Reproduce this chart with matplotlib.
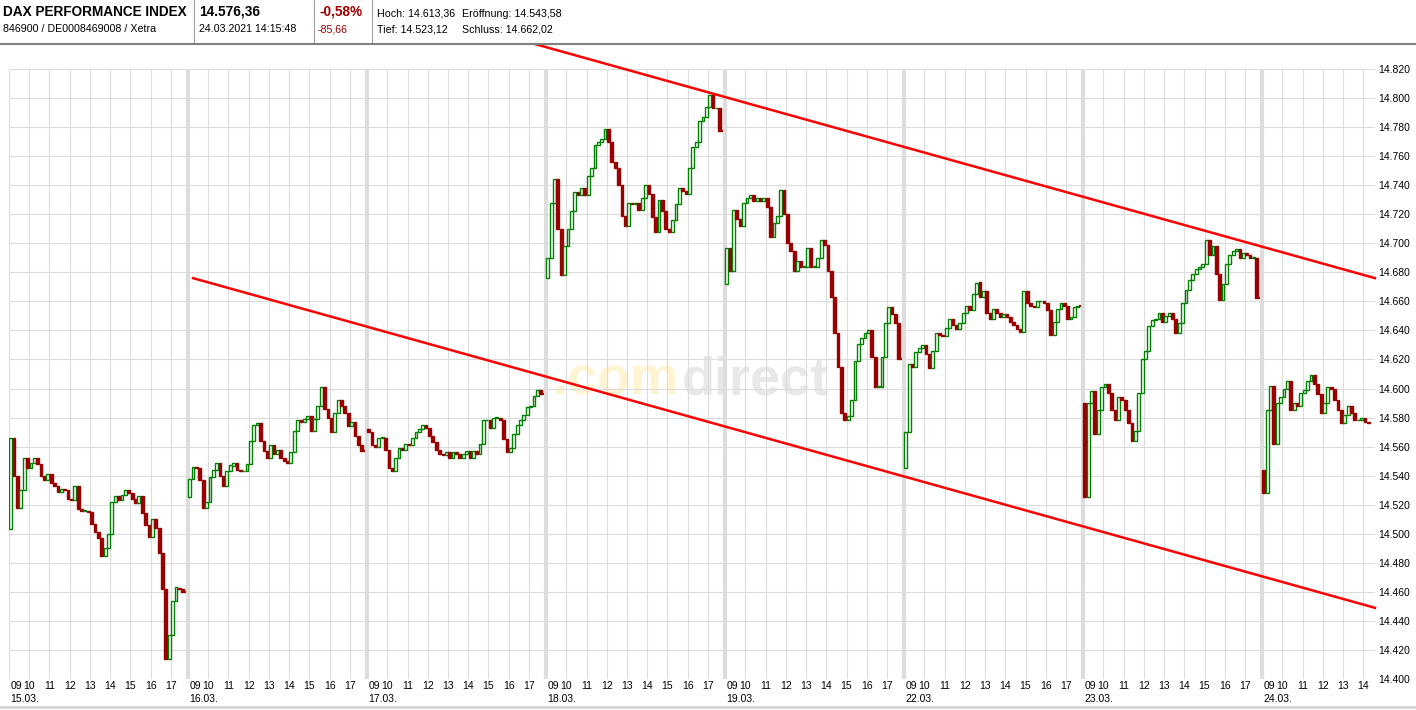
import matplotlib
matplotlib.use("Agg")
import matplotlib.pyplot as plt
from matplotlib.lines import Line2D
from matplotlib.transforms import blended_transform_factory

plt.rcParams['font.family'] = ['Liberation Sans', 'DejaVu Sans']

# trading days and their opening prices
day_dates = ["15.03.", "16.03.", "17.03.", "18.03.", "19.03.", "22.03.", "23.03.", "24.03."]
day_opens = [14503, 14525, 14572, 14676, 14672, 14545, 14590, 14544]

# 10-minute closes, 09:00 onwards
closes_1503 = [14566, 14540, 14518, 14530, 14552, 14545, 14549, 14552, 14548, 14540,
               14537, 14541, 14535, 14533, 14529, 14531, 14530, 14524, 14523, 14533,
               14517, 14516, 14516, 14515, 14507, 14501, 14497, 14485, 14490, 14500,
               14522, 14526, 14523, 14527, 14530, 14528, 14524, 14521, 14526, 14514,
               14506, 14498, 14510, 14504, 14487, 14462, 14414, 14430, 14454, 14463,
               14462, 14460]
closes_1603 = [14538, 14546, 14545, 14537, 14518, 14522, 14539, 14544, 14549, 14540,
               14533, 14543, 14547, 14549, 14544, 14543, 14543, 14548, 14564, 14575,
               14576, 14564, 14557, 14552, 14561, 14555, 14558, 14552, 14550, 14549,
               14556, 14571, 14578, 14577, 14579, 14581, 14571, 14579, 14588, 14601,
               14586, 14580, 14570, 14583, 14592, 14588, 14583, 14574, 14577, 14567,
               14561, 14557]
closes_1703 = [14570, 14561, 14560, 14566, 14566, 14558, 14545, 14543, 14552, 14559,
               14558, 14562, 14561, 14566, 14570, 14572, 14575, 14573, 14567, 14563,
               14558, 14555, 14554, 14556, 14552, 14556, 14555, 14552, 14555, 14557,
               14552, 14557, 14555, 14562, 14578, 14578, 14573, 14580, 14580, 14578,
               14565, 14556, 14559, 14569, 14575, 14578, 14582, 14587, 14588, 14595,
               14599, 14596]
closes_1803 = [14690, 14728, 14744, 14710, 14678, 14698, 14710, 14722, 14735, 14733,
               14738, 14733, 14746, 14752, 14768, 14770, 14772, 14779, 14770, 14756,
               14752, 14740, 14719, 14712, 14728, 14727, 14728, 14723, 14731, 14740,
               14734, 14718, 14708, 14730, 14722, 14710, 14708, 14716, 14727, 14738,
               14736, 14734, 14752, 14766, 14770, 14784, 14787, 14794, 14802, 14793,
               14793, 14777]
closes_1903 = [14697, 14681, 14723, 14717, 14712, 14728, 14731, 14733, 14729, 14731,
               14729, 14731, 14725, 14704, 14714, 14719, 14737, 14720, 14700, 14695,
               14681, 14688, 14684, 14684, 14697, 14684, 14684, 14690, 14702, 14699,
               14681, 14663, 14638, 14615, 14583, 14578, 14581, 14592, 14619, 14631,
               14635, 14638, 14640, 14622, 14601, 14601, 14622, 14645, 14656, 14651,
               14645, 14620]
closes_2203 = [14570, 14617, 14615, 14625, 14628, 14630, 14624, 14614, 14626, 14638,
               14637, 14636, 14642, 14648, 14644, 14641, 14645, 14652, 14657, 14654,
               14665, 14673, 14663, 14667, 14652, 14648, 14655, 14652, 14649, 14651,
               14649, 14646, 14644, 14641, 14639, 14667, 14659, 14657, 14656, 14660,
               14660, 14659, 14654, 14637, 14646, 14655, 14659, 14657, 14648, 14649,
               14656, 14657]
closes_2303 = [14525, 14590, 14598, 14569, 14585, 14601, 14603, 14597, 14585, 14578,
               14594, 14592, 14585, 14576, 14564, 14571, 14597, 14620, 14626, 14643,
               14647, 14648, 14652, 14646, 14650, 14652, 14648, 14638, 14645, 14659,
               14668, 14675, 14679, 14682, 14684, 14686, 14702, 14692, 14698, 14679,
               14661, 14672, 14686, 14692, 14695, 14696, 14690, 14693, 14692, 14690,
               14690, 14662]
closes_2403 = [14528, 14585, 14602, 14562, 14590, 14594, 14600, 14605, 14585, 14590,
               14588, 14597, 14599, 14605, 14609, 14603, 14596, 14583, 14590, 14601,
               14600, 14592, 14585, 14576, 14582, 14588, 14583, 14578, 14578, 14580,
               14577, 14576]
day_closes = [closes_1503, closes_1603, closes_1703, closes_1803,
              closes_1903, closes_2203, closes_2303, closes_2403]

# trend lines (hours on the axis, index level)
upper_trend_x = [26.02, 67.46]
upper_trend_y = [14837, 14676]
lower_trend_x = [9.09, 67.46]
lower_trend_y = [14676, 14449]

header_title = "DAX PERFORMANCE INDEX"
header_id = "846900 / DE0008469008 / Xetra"
header_price = "14.576,36"
header_time = "24.03.2021 14:15:48"
header_pct = "-0,58%"
header_diff = "-85,66"
header_high = "Hoch: 14.613,36"
header_low = "Tief: 14.523,12"
header_open = "Eröffnung: 14.543,58"
header_close = "Schluss: 14.662,02"

DAY_LEN = 8.84   # axis width of one trading day in hours
BAR = 1 / 6      # 10 minutes
W, H = 1416, 710
GREEN = '#008000'
DARKRED = '#990000'
GRID = '#dcdcdc'

fig = plt.figure(figsize=(W / 100, H / 100), dpi=100)


def fx(x):
    return x / W


def fy(y):
    return 1 - y / H


ax = fig.add_axes([fx(9), 31 / H, 1366 / W, 610 / H])
ax.set_xlim(0, 67.46)
ax.set_ylim(14400, 14820)
for s in ax.spines.values():
    s.set_visible(False)

# grid
yticks = list(range(14400, 14821, 20))
ax.hlines(yticks, 0, 67.46, color=GRID, lw=0.8, zorder=1)
ax.vlines(0, 14400, 14820, color=GRID, lw=0.8, zorder=1)
trans = blended_transform_factory(ax.transData, ax.transAxes)
for d, date in enumerate(day_dates):
    start = d * DAY_LEN
    n_hours = 8 if d < len(day_dates) - 1 else 5
    for h in range(1, n_hours + 1):
        ax.vlines(start + h, 14400, 14820, color=GRID, lw=0.8, zorder=1)
    if d > 0:
        ax.vlines(start, 14400, 14820, color='#dddddd', lw=3, zorder=1)
    # hour labels
    ax.text(start + 0.1, -0.012, "09", transform=trans, ha='left', va='center', fontsize=7.5)
    for h in range(1, n_hours + 1):
        ax.text(start + h, -0.012, f"{9 + h:02d}", transform=trans, ha='center', va='center',
                fontsize=7.5)
    ax.text(start + 0.05, -0.033, date, transform=trans, ha='left', va='center', fontsize=7.5)

ax.yaxis.tick_right()
ax.set_yticks(yticks)
ax.set_yticklabels([f"{v:,}".replace(",", ".") for v in yticks])
ax.tick_params(axis='y', length=0, pad=2, labelsize=7.5)
ax.set_xticks([])

# watermark
ax.text(33.1, 14596, ".com", ha='right', va='baseline', fontsize=39, fontweight='bold',
        color='#fff4d2', zorder=0.5)
ax.text(33.2, 14596, "direct", ha='left', va='baseline', fontsize=39, fontweight='bold',
        color='#e8e8e8', zorder=0.5)

# candles
for d, closes in enumerate(day_closes):
    start = d * DAY_LEN
    prev = day_opens[d]
    for k, c in enumerate(closes):
        x = start + (k + 0.5) * BAR
        lo, hi = min(prev, c), max(prev, c)
        if c >= prev:
            ax.bar(x, max(hi - lo, 0.4), bottom=lo, width=BAR * 0.85, facecolor='white',
                   edgecolor=GREEN, linewidth=1.0, zorder=3)
        else:
            ax.bar(x, hi - lo, bottom=lo, width=BAR * 0.85, facecolor=DARKRED,
                   edgecolor=DARKRED, linewidth=1.0, zorder=3)
        prev = c
    if d < len(day_dates) - 1:
        ax.hlines(closes[-1], start + len(closes) * BAR, (d + 1) * DAY_LEN - 0.1,
                  color=DARKRED, lw=1.6, zorder=3)

# trend lines
ax.plot(upper_trend_x, upper_trend_y, color='#ff0000', lw=1.8, clip_on=False, zorder=4)
ax.plot(lower_trend_x, lower_trend_y, color='#ff0000', lw=1.8, clip_on=False, zorder=4)

# header
fig.text(fx(3), fy(12), header_title, fontsize=9.8, fontweight='bold', va='center')
fig.text(fx(3), fy(29), header_id, fontsize=7.7, va='center')
fig.text(fx(199), fy(12), header_price, fontsize=9.8, fontweight='bold', va='center')
fig.text(fx(199), fy(29), header_time, fontsize=7.7, va='center')
fig.text(fx(319), fy(12), header_pct, fontsize=9.8, fontweight='bold', va='center',
         color='#a00000')
fig.text(fx(318), fy(29), header_diff, fontsize=7.7, va='center', color='#a00000')
fig.text(fx(377), fy(14), header_high, fontsize=7.7, va='center')
fig.text(fx(377), fy(29), header_low, fontsize=7.7, va='center')
fig.text(fx(462), fy(14), header_open, fontsize=7.7, va='center')
fig.text(fx(462), fy(29), header_close, fontsize=7.7, va='center')
for sx in [194, 314, 372]:
    fig.add_artist(Line2D([fx(sx), fx(sx)], [fy(0), fy(43)], color='#a0a0a0', lw=0.8))
fig.add_artist(Line2D([0, 1], [fy(44), fy(44)], color='#808080', lw=1.5, zorder=5))
fig.add_artist(Line2D([0, 1], [fy(707), fy(707)], color='#d4d4d4', lw=2))

fig.savefig("out.png", dpi=100)
